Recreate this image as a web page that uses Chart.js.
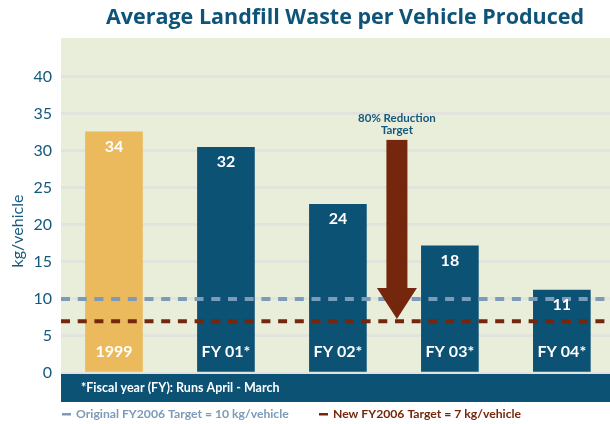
<!DOCTYPE html>
<html>
<head>
<meta charset="utf-8">
<script src="https://cdn.jsdelivr.net/npm/chart.js@4"></script>
<style>
  html, body { margin: 0; padding: 0; background: #ffffff; }
  #wrap { width: 610px; height: 424px; position: relative; }
</style>
</head>
<body>
<div id="wrap"><canvas id="chart"></canvas></div>
<script>
// values
const categories = ['1999', 'FY 01*', 'FY 02*', 'FY 03*', 'FY 04*'];
const barHeights = [32.6, 30.5, 22.8, 17.2, 11.2];
const valueLabels = ['34', '32', '24', '18', '11'];
const originalTarget = 10;
const newTarget = 7;
const yTicks = [0, 5, 10, 15, 20, 25, 30, 35, 40];
const arrowFrom = 31.5;   // top of the shaft
const arrowTo = 7.3;      // tip of the arrow
const arrowAt = 2.527;    // between FY 02 and FY 03

const FONT = 'Lato, "Open Sans", sans-serif';
const TITLE_FONT = '"Open Sans", Lato, sans-serif';
const BLUE = '#0b5275';
const GOLD = '#ebba5c';
const BROWN = '#74270c';
const STEEL = '#7b9bb8';
const TEXT_BLUE = '#14587c';

const X_MIN = -0.473, X_MAX = 4.43;

const bgPlugin = {
  id: 'plotBg',
  beforeDraw(chart) {
    const { ctx, chartArea: a } = chart;
    ctx.save();
    ctx.fillStyle = '#e9eedb';
    ctx.fillRect(a.left, a.top, a.right - a.left, a.bottom - a.top);
    ctx.restore();
  }
};

const decorPlugin = {
  id: 'decor',
  afterDatasetsDraw(chart) {
    const { ctx } = chart;
    const xs = chart.scales.x, ys = chart.scales.y;
    ctx.save();

    // arrow
    const cx = xs.getPixelForValue(arrowAt);
    const top = ys.getPixelForValue(arrowFrom);
    const tip = ys.getPixelForValue(arrowTo);
    const headBase = tip - 31;
    ctx.fillStyle = BROWN;
    ctx.fillRect(cx - 10.5, top, 21, headBase - top + 1);
    ctx.beginPath();
    ctx.moveTo(cx - 20, headBase);
    ctx.lineTo(cx + 20, headBase);
    ctx.lineTo(cx, tip);
    ctx.closePath();
    ctx.fill();

    ctx.fillStyle = TEXT_BLUE;
    ctx.font = 'bold 11.5px ' + FONT;
    ctx.textAlign = 'center';
    ctx.textBaseline = 'middle';
    ctx.fillText('80% Reduction', cx, top - 22);
    ctx.fillText('Target', cx, top - 10);

    // labels inside bars
    ctx.fillStyle = '#ffffff';
    ctx.font = 'bold 16px ' + FONT;
    categories.forEach((c, i) => {
      const x = xs.getPixelForValue(i);
      ctx.fillText(valueLabels[i], x, ys.getPixelForValue(barHeights[i]) + 15);
      ctx.fillText(c, x, ys.getPixelForValue(2.8));
    });
    ctx.restore();
  },
  afterDraw(chart) {
    const { ctx, chartArea: a } = chart;
    ctx.save();
    // title
    ctx.fillStyle = '#0e5478';
    ctx.font = 'bold 21.5px ' + TITLE_FONT;
    ctx.textAlign = 'center';
    ctx.textBaseline = 'middle';
    ctx.fillText('Average Landfill Waste per Vehicle Produced', 345, 18);

    // y axis name
    ctx.save();
    ctx.translate(18, 231);
    ctx.rotate(-Math.PI / 2);
    ctx.fillStyle = TEXT_BLUE;
    ctx.font = '16px ' + FONT;
    ctx.fillText('kg/vehicle', 0, 0);
    ctx.restore();

    // footnote band
    ctx.fillStyle = BLUE;
    ctx.fillRect(a.left, a.bottom + 1, a.right - a.left, 28);
    ctx.fillStyle = '#ffffff';
    ctx.font = 'bold 12.5px ' + FONT;
    ctx.textAlign = 'left';
    ctx.fillText('*Fiscal year (FY): Runs April - March', 81, a.bottom + 15);

    // key
    ctx.font = 'bold 12.2px ' + FONT;
    ctx.fillStyle = STEEL;
    ctx.fillRect(62, 413, 9, 2.5);
    ctx.fillText('Original FY2006 Target = 10 kg/vehicle', 76, 414);
    ctx.fillStyle = BROWN;
    ctx.fillRect(319, 413, 9, 2.5);
    ctx.fillText('New FY2006 Target = 7 kg/vehicle', 333, 414);
    ctx.restore();
  }
};

const lineData = (v) => [{ x: X_MIN, y: v }, { x: X_MAX, y: v }];

new Chart(document.getElementById('chart'), {
  type: 'bar',
  data: {
    datasets: [
      {
        type: 'line',
        data: lineData(originalTarget),
        borderColor: STEEL,
        borderWidth: 4,
        borderDash: [9, 7.7],
        pointRadius: 0,
        order: 0
      },
      {
        type: 'line',
        data: lineData(newTarget),
        borderColor: BROWN,
        borderWidth: 4,
        borderDash: [9, 7.7],
        pointRadius: 0,
        order: 0
      },
      {
        data: barHeights.map((v, i) => ({ x: i, y: v })),
        backgroundColor: barHeights.map((v, i) => (i === 0 ? GOLD : BLUE)),
        barThickness: 57,
        order: 1
      }
    ]
  },
  options: {
    responsive: true,
    maintainAspectRatio: false,
    animation: false,
    devicePixelRatio: 1,
    layout: { padding: { top: 38, bottom: 51, right: 0, left: 0 } },
    plugins: {
      legend: { display: false },
      tooltip: { enabled: false },
      title: { display: false }
    },
    scales: {
      x: {
        type: 'linear',
        min: X_MIN,
        max: X_MAX,
        display: false,
        offset: false
      },
      y: {
        min: 0,
        max: 45.27,
        afterBuildTicks(scale) {
          scale.ticks = yTicks.map((v) => ({ value: v }));
        },
        afterFit(scale) { scale.width = 61; },
        border: { display: false },
        grid: { color: '#e1e3dc', lineWidth: 3, drawTicks: false },
        ticks: {
          color: TEXT_BLUE,
          font: { family: FONT, size: 16 },
          padding: 9
        }
      }
    }
  },
  plugins: [bgPlugin, decorPlugin]
});
</script>
</body>
</html>
